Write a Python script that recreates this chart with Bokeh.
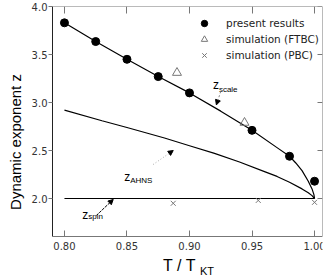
from bokeh.plotting import figure
from bokeh.models import (Range1d, LinearAxis, FixedTicker, Legend, LegendItem,
                          Label, Arrow, NormalHead, CustomLabelingPolicy, Title)
from bokeh.embed import file_html
from bokeh.resources import INLINE

# ---- data ----
present_t = [0.80, 0.825, 0.85, 0.875, 0.90, 0.95, 0.98, 1.00]
present_z = [3.83, 3.635, 3.45, 3.27, 3.10, 2.71, 2.44, 2.18]

ftbc_t = [0.89, 0.944]
ftbc_z = [3.31, 2.79]

pbc_t = [0.887, 0.955, 1.00]
pbc_z = [1.95, 1.98, 1.96]

scale_t = [0.80, 0.825, 0.85, 0.875, 0.90, 0.925, 0.95, 0.97, 0.98, 0.985, 0.99, 0.995, 0.998, 0.9995, 1.0]
scale_z = [3.83, 3.635, 3.45, 3.27, 3.10, 2.91, 2.71, 2.53, 2.44, 2.37, 2.29, 2.18, 2.10, 2.04, 2.0]

ahns_t = [0.80, 0.83, 0.85, 0.88, 0.90, 0.92, 0.94, 0.96, 0.97, 0.98, 0.99, 0.995, 0.998, 1.0]
ahns_z = [2.92, 2.81, 2.74, 2.63, 2.55, 2.47, 2.38, 2.28, 2.23, 2.17, 2.10, 2.06, 2.03, 2.0]

spin_t = [0.80, 1.00]
spin_z = [2.0, 2.0]

x_ticks = [0.80, 0.85, 0.90, 0.95, 1.00]
y_ticks = [2.0, 2.5, 3.0, 3.5, 4.0]
x_low, x_high = 0.79044, 1.00637
y_low, y_high = 1.6, 4.0

legend_labels = ["present results", "simulation (FTBC)", "simulation (PBC)"]

TICK_FONT = "DejaVu Sans"
LABEL_FONT = "Liberation Sans"
GRAY = "#777777"

# frame extends below the x axis so that the axis title can live inside it
p = figure(width=332, height=277, output_backend="svg", toolbar_location=None,
           x_range=Range1d(x_low, x_high), y_range=Range1d(1.1771, y_high),
           min_border_left=51, min_border_right=10, min_border_top=6, min_border_bottom=0)
p.grid.visible = False
p.outline_line_color = None
p.background_fill_color = "white"

hide_labels = CustomLabelingPolicy(code="for (const i of indices) { indices.unset(i) }\nreturn indices")

# bottom axis placed at y = 1.6
xa = p.xaxis[0]
xa.fixed_location = y_low
xa.ticker = FixedTicker(ticks=x_ticks)
xa.major_label_overrides = {t: f"{t:.2f}" for t in x_ticks}
xa.major_tick_in = 6
xa.major_tick_out = 0
xa.minor_tick_line_color = None
xa.axis_line_color = GRAY
xa.major_tick_line_color = GRAY
xa.major_label_text_font = TICK_FONT
xa.major_label_text_font_size = "10px"
xa.major_label_text_color = "#333333"
xa.major_label_standoff = 5

# left axis (title added separately so it can be centred on the plotted span)
ya = p.yaxis[0]
ya.ticker = FixedTicker(ticks=y_ticks)
ya.bounds = (y_low, y_high)
ya.major_label_overrides = {t: f"{t:.1f}" for t in y_ticks}
ya.major_tick_in = 0
ya.major_tick_out = 4
ya.minor_tick_line_color = None
ya.axis_line_color = "#222222"
ya.major_tick_line_color = GRAY
ya.major_label_text_font = TICK_FONT
ya.major_label_text_font_size = "10px"
ya.major_label_text_color = "#333333"
ya.major_label_standoff = 1

p.add_layout(Title(text="Dynamic exponent z", align="center", offset=21, standoff=9,
                   text_font=LABEL_FONT, text_font_size="15px", text_font_style="normal",
                   text_color="black"), "left")

# top and right axes: ticks only
top = LinearAxis(ticker=FixedTicker(ticks=x_ticks), fixed_location=y_high,
                 major_tick_in=7, major_tick_out=0, minor_tick_line_color=None,
                 major_label_overrides={t: "" for t in x_ticks}, major_label_policy=hide_labels,
                 major_label_standoff=0, axis_line_color=GRAY, major_tick_line_color=GRAY)
p.add_layout(top, "above")
right = LinearAxis(ticker=FixedTicker(ticks=y_ticks), fixed_location=x_high, bounds=(y_low, y_high),
                   major_tick_in=5, major_tick_out=0, minor_tick_line_color=None,
                   major_label_overrides={t: "" for t in y_ticks}, major_label_policy=hide_labels,
                   major_label_standoff=0, axis_line_color=GRAY, major_tick_line_color=GRAY)
p.add_layout(right, "right")

# curves
p.line(scale_t, scale_z, line_color="black", line_width=1.2)
p.line(ahns_t, ahns_z, line_color="black", line_width=1.2)
p.line(spin_t, spin_z, line_color="black", line_width=1.2)

# points
r_pres = p.scatter(present_t, present_z, marker="circle", size=8, fill_color="black", line_color="black")
r_ftbc = p.scatter(ftbc_t, ftbc_z, marker="triangle", size=9, fill_color=None, line_color=GRAY)
r_pbc = p.scatter(pbc_t, pbc_z, marker="x", size=7, line_color=GRAY)

legend = Legend(items=[LegendItem(label=legend_labels[0], renderers=[r_pres]),
                       LegendItem(label=legend_labels[1], renderers=[r_ftbc]),
                       LegendItem(label=legend_labels[2], renderers=[r_pbc])],
                location=(144, 214), border_line_color=None, background_fill_alpha=0,
                label_text_font=TICK_FONT, label_text_font_size="10.5px", label_text_color="#222222",
                glyph_width=16, glyph_height=16, label_height=16, spacing=0, padding=0,
                margin=0, label_standoff=14)
p.add_layout(legend)

# curve annotations
def sub_label(x, y, main, sub, xs, ys, size="12px", subsize="8px"):
    p.add_layout(Label(x=x, y=y, text=main, text_font=LABEL_FONT, text_font_size=size,
                       text_baseline="alphabetic", text_color="black"))
    p.add_layout(Label(x=xs, y=ys, text=sub, text_font=LABEL_FONT, text_font_size=subsize,
                       text_baseline="alphabetic", text_color="black"))

sub_label(0.9187, 3.1875, "z", "scale", 0.9235, 3.135)
sub_label(0.8478, 2.219, "z", "AHNS", 0.8526, 2.1875)
sub_label(0.8143, 1.833, "z", "spin", 0.8191, 1.815)

p.add_layout(Arrow(end=NormalHead(size=5, fill_color="black", line_color="black"),
                   x_start=0.925, y_start=3.115, x_end=0.9215, y_end=2.975,
                   line_color="#888888", line_dash="2 2", line_width=1))
p.add_layout(Arrow(end=NormalHead(size=5, fill_color="black", line_color="black"),
                   x_start=0.8709, y_start=2.354, x_end=0.887, y_end=2.50,
                   line_color="#aaaaaa", line_dash="1 2", line_width=1))
p.add_layout(Arrow(end=NormalHead(size=5, fill_color="black", line_color="black"),
                   x_start=0.8255, y_start=1.823, x_end=0.839, y_end=1.99,
                   line_color="black", line_dash="3 1", line_width=1))

# x axis title with subscript
p.add_layout(Label(x=0.8789, y=1.302, text="T / T", text_font=LABEL_FONT, text_font_size="16px",
                   text_baseline="alphabetic", text_color="black"))
p.add_layout(Label(x=0.9084, y=1.25, text="KT", text_font=LABEL_FONT, text_font_size="11px",
                   text_baseline="alphabetic", text_color="black"))

open("out.html", "w").write(file_html(p, INLINE))
